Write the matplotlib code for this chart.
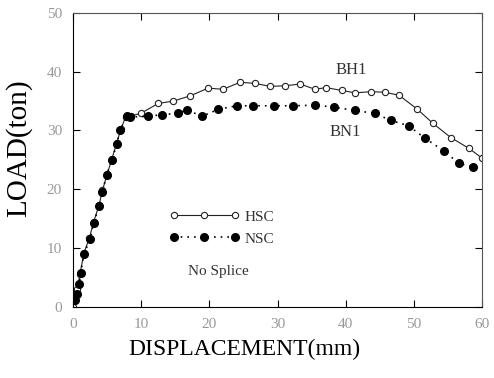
import matplotlib.pyplot as plt

# HSC (BH1) load-displacement readings
hsc_disp = [0.0, 0.3, 0.6, 1.0, 1.6, 2.4, 3.0, 3.8, 4.3, 5.0, 5.7, 6.4, 7.0, 7.7, 8.5,
            9.9, 12.5, 14.7, 17.2, 19.8, 22.0, 24.5, 26.7, 28.9, 31.1, 33.3, 35.5,
            37.1, 39.4, 41.4, 43.7, 45.7, 47.8, 50.4, 52.8, 55.4, 58.0, 60.0]
hsc_load = [0.0, 1.2, 3.0, 5.6, 9.2, 11.8, 14.4, 17.3, 19.8, 22.6, 25.2, 27.9, 30.2, 32.3, 32.5,
            32.9, 34.6, 35.0, 35.9, 37.2, 37.0, 38.2, 38.0, 37.5, 37.6, 37.9, 37.0,
            37.3, 36.8, 36.4, 36.6, 36.5, 36.0, 33.7, 31.2, 28.8, 27.0, 25.3]

# NSC (BN1) load-displacement readings
nsc_disp = [0.3, 0.5, 0.9, 1.1, 1.6, 2.5, 3.0, 3.8, 4.3, 4.9, 5.7, 6.4, 6.9, 7.9, 8.4,
            11.0, 13.0, 15.4, 16.7, 18.9, 21.3, 24.0, 26.4, 29.4, 32.3, 35.5,
            38.2, 41.3, 44.3, 46.6, 49.2, 51.6, 54.4, 56.6, 58.7]
nsc_load = [1.2, 2.2, 3.9, 5.8, 9.0, 11.6, 14.2, 17.1, 19.6, 22.4, 25.0, 27.7, 30.1, 32.4, 32.3,
            32.4, 32.7, 32.9, 33.5, 32.4, 33.6, 34.2, 34.2, 34.2, 34.2, 34.3,
            34.0, 33.4, 32.9, 31.7, 30.8, 28.7, 26.5, 24.4, 23.8]

serif = ['Liberation Serif', 'DejaVu Serif']

fig = plt.figure(figsize=(4.94, 3.78), dpi=100)
ax = fig.add_axes([0.148, 0.188, 0.828, 0.778])

ax.plot(hsc_disp, hsc_load, color='#222222', lw=0.8, marker='o', ms=4.5,
        mfc='white', mec='#222222', mew=0.8, label='HSC')
ax.plot(nsc_disp, nsc_load, color='black', lw=1.2, ls=(0, (1, 3)), marker='o', ms=5.5,
        mfc='black', mec='black', label='NSC')

ax.set_xlim(0, 60)
ax.set_ylim(0, 50)
ax.set_xticks(range(0, 61, 10))
ax.set_yticks(range(0, 51, 10))
ax.tick_params(direction='in', length=5, width=0.8, top=True, right=True,
               labelsize=11, labelcolor='#999999', pad=8)
for lab in ax.get_xticklabels() + ax.get_yticklabels():
    lab.set_family(serif)
for side in ['top', 'right']:
    ax.spines[side].set_color('#555555')
for sp in ax.spines.values():
    sp.set_linewidth(0.8)

ax.set_xlabel('DISPLACEMENT(mm)', family=serif, fontsize=17)
ax.xaxis.set_label_coords(0.42, -0.11)
ax.set_ylabel('LOAD(ton)', family=serif, fontsize=21)
ax.yaxis.set_label_coords(-0.1, 0.54)

ax.text(38.5, 40.2, 'BH1', family=serif, fontsize=12, color='#333333', va='center')
ax.text(37.6, 29.8, 'BN1', family=serif, fontsize=12, color='#333333', va='center')

leg = ax.legend(loc='upper left', bbox_to_anchor=(0.235, 0.33), frameon=False,
                numpoints=3, handlelength=4.6, handletextpad=0.3, borderaxespad=0,
                borderpad=0, labelspacing=0.55, prop={'family': serif, 'size': 11})
for t in leg.get_texts():
    t.set_color('#333333')
ax.text(0.281, 0.119, 'No Splice', transform=ax.transAxes, family=serif,
        fontsize=11, color='#333333', va='center')

fig.savefig('out.png', dpi=100)
